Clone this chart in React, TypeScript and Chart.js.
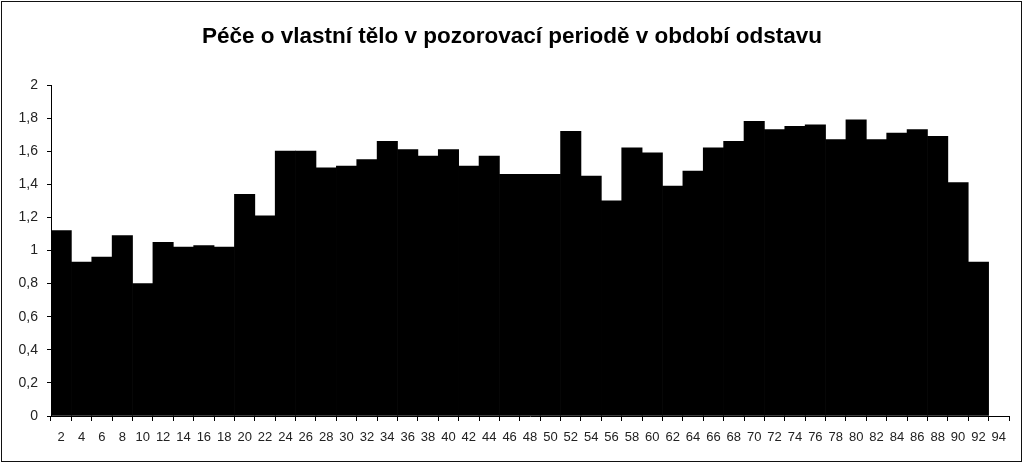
import Chart from 'chart.js/auto';
import { useEffect, useRef } from 'react';

const labels: string[] = [
  '2', '4', '6', '8', '10', '12', '14', '16', '18', '20', '22', '24', '26', '28', '30', '32',
  '34', '36', '38', '40', '42', '44', '46', '48', '50', '52', '54', '56', '58', '60', '62', '64',
  '66', '68', '70', '72', '74', '76', '78', '80', '82', '84', '86', '88', '90', '92', '94'
];

const values: (number | null)[] = [
  1.12, 0.93, 0.96, 1.09, 0.80, 1.05, 1.02, 1.03, 1.02, 1.34, 1.21, 1.60, 1.60, 1.50, 1.51, 1.55,
  1.66, 1.61, 1.57, 1.61, 1.51, 1.57, 1.46, 1.46, 1.46, 1.72, 1.45, 1.30, 1.62, 1.59, 1.39, 1.48,
  1.62, 1.66, 1.78, 1.73, 1.75, 1.76, 1.67, 1.79, 1.67, 1.71, 1.73, 1.69, 1.41, 0.93, null
];

const title = 'Péče o vlastní tělo v pozorovací periodě v období odstavu';

const font = 'Arial, "Liberation Sans", sans-serif';

// frame round the picture and the title, centred on the whole canvas
const framePlugin = {
  id: 'frame',
  afterDraw(chart: any) {
    const ctx = chart.ctx;
    ctx.save();
    ctx.strokeStyle = '#111';
    ctx.lineWidth = 1;
    ctx.strokeRect(1.5, 1.5, chart.width - 4, chart.height - 3);
    ctx.fillStyle = '#000';
    ctx.font = 'bold 22.5px ' + font;
    ctx.textAlign = 'center';
    ctx.textBaseline = 'alphabetic';
    ctx.fillText(title, 512, 42.5);
    ctx.restore();
  }
};

const App: React.FC = () => {
  const chartRef = useRef<HTMLCanvasElement>(null);

  useEffect(() => {
    document.body.style.margin = '0';

    const config: any = {
      type: 'bar',
      data: {
        labels: labels,
        datasets: [{
          data: values,
          backgroundColor: '#000',
          borderWidth: 0,
          barPercentage: 1,
          categoryPercentage: 1
        }]
      },
      options: {
        responsive: false,
        animation: false,
        devicePixelRatio: 1,
        layout: { padding: { left: 0, right: 15, top: 85, bottom: 0 } },
        plugins: {
          legend: { display: false },
          tooltip: { enabled: false },
          title: { display: false }
        },
        scales: {
          x: {
            offset: true,
            grid: { offset: true, drawOnChartArea: false, drawTicks: true, tickLength: 5, color: '#000' },
            border: { display: true, color: '#000', width: 1 },
            ticks: {
              autoSkip: false,
              maxRotation: 0,
              minRotation: 0,
              padding: 9,
              color: '#222',
              font: { family: font, size: 13 }
            },
            afterFit(scale: any) { scale.height = 47; }
          },
          y: {
            min: 0,
            max: 2,
            grid: { drawOnChartArea: false, drawTicks: true, tickLength: 4, color: '#000' },
            border: { display: true, color: '#000', width: 1 },
            ticks: {
              stepSize: 0.2,
              padding: 9,
              color: '#222',
              font: { family: font, size: 14 },
              callback: (v: number) => String(Number(v.toFixed(1))).replace('.', ',')
            },
            afterFit(scale: any) { scale.width = 51; }
          }
        }
      },
      plugins: [framePlugin]
    };

    const myChart = new Chart(chartRef.current as HTMLCanvasElement, config);

    return () => {
      if (myChart) {
        myChart.destroy();
      }
    };
  }, []);

  return (
    <canvas ref={chartRef} width={1024} height={463} style={{ display: 'block', background: '#fff' }}></canvas>
  );
};

export default App;
